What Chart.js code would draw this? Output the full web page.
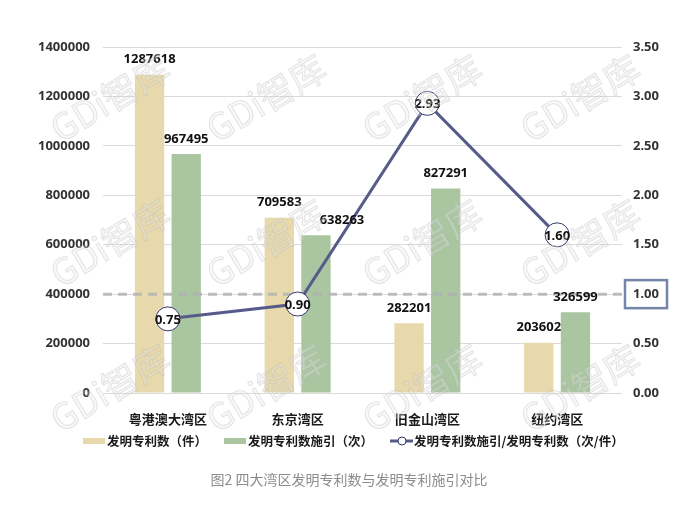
<!DOCTYPE html>
<html>
<head>
<meta charset="utf-8">
<script src="https://cdn.jsdelivr.net/npm/chart.js@4.4.0/dist/chart.umd.min.js"></script>
<style>
  html, body { margin: 0; padding: 0; background: #fff; }
  #wrap { width: 690px; height: 507px; position: relative; }
</style>
</head>
<body>
<div id="wrap"><canvas id="chart-patent"></canvas></div>
<script>
const regions = ['粤港澳大湾区', '东京湾区', '旧金山湾区', '纽约湾区'];
const patents = [1287618, 709583, 282201, 203602];
const citations = [967495, 638263, 827291, 326599];
const citeRatio = [0.75, 0.90, 2.93, 1.60];
const seriesNames = ['发明专利数（件）', '发明专利数施引（次）', '发明专利数施引/发明专利数（次/件）'];
const refLevel = 1.0;
const caption = '图2 四大湾区发明专利数与发明专利施引对比';
const watermark = 'GDi智库';

const fontFamily = '"Noto Sans", "Noto Sans CJK SC", sans-serif';
const cjkFont = '"Noto Sans CJK SC", sans-serif';
const yellow = '#e7d9ab';
const green = '#a9c6a1';
const navy = '#575b8a';

Chart.defaults.font.family = fontFamily;

// value labels over bars and inside the line points
const valueLabels = {
  id: 'valueLabels',
  afterDatasetsDraw(chart) {
    const ctx = chart.ctx;
    ctx.save();
    ctx.fillStyle = '#111';
    ctx.textAlign = 'center';
    ctx.textBaseline = 'middle';
    ctx.font = `bold 13px ${fontFamily}`;
    [0, 1].forEach(di => {
      chart.getDatasetMeta(di).data.forEach((bar, i) => {
        let dx = 0;
        if (di === 1 && i === 1) dx = 26; // nudged right in the original
        ctx.fillText(chart.data.datasets[di].data[i], bar.x + dx, bar.y - 15);
      });
    });
    chart.getDatasetMeta(2).data.forEach((pt, i) => {
      ctx.fillText(citeRatio[i].toFixed(2), pt.x, pt.y + 1);
    });
    ctx.restore();
  }
};

// grey dashed reference line at 1.00, under the ratio line
const refLine = {
  id: 'refLine',
  beforeDatasetDraw(chart, args) {
    if (args.index !== 2) return;
    const { ctx, chartArea } = chart;
    const y = chart.scales.y1.getPixelForValue(refLevel);
    ctx.save();
    ctx.strokeStyle = 'rgba(175,175,180,0.8)';
    ctx.lineWidth = 3;
    ctx.setLineDash([9, 6]);
    ctx.beginPath();
    ctx.moveTo(chartArea.left, y);
    ctx.lineTo(chartArea.right, y);
    ctx.stroke();
    ctx.restore();
  }
};

const extras = {
  id: 'extras',
  afterDraw(chart) {
    const { ctx, chartArea } = chart;
    ctx.save();

    // watermark
    ctx.font = `36px ${cjkFont}`;
    ctx.textAlign = 'center';
    ctx.textBaseline = 'middle';
    ctx.fillStyle = 'rgba(235,235,235,0.3)';
    ctx.strokeStyle = 'rgba(180,180,180,0.35)';
    ctx.lineWidth = 1;
    [98, 243, 388].forEach(wy => {
      [110, 266, 422, 580].forEach(wx => {
        ctx.save();
        ctx.translate(wx, wy);
        ctx.rotate(-31 * Math.PI / 180);
        ctx.fillText(watermark, 0, 0);
        ctx.strokeText(watermark, 0, 0);
        ctx.restore();
      });
    });

    // box round the 1.00 tick
    const yb = chart.scales.y1.getPixelForValue(refLevel);
    ctx.strokeStyle = '#7486a7';
    ctx.lineWidth = 2.5;
    ctx.strokeRect(chartArea.right + 3, yb - 14, 42, 28);

    // legend
    const ly = 441;
    ctx.font = `bold 12.5px ${cjkFont}`;
    ctx.textAlign = 'left';
    ctx.textBaseline = 'middle';
    ctx.fillStyle = yellow;
    ctx.fillRect(83, ly - 3, 22, 6);
    ctx.fillStyle = green;
    ctx.fillRect(224, ly - 3, 22, 6);
    ctx.strokeStyle = navy;
    ctx.lineWidth = 3;
    ctx.beginPath();
    ctx.moveTo(390, ly);
    ctx.lineTo(413, ly);
    ctx.stroke();
    ctx.beginPath();
    ctx.arc(402, ly, 4, 0, Math.PI * 2);
    ctx.fillStyle = '#fff';
    ctx.fill();
    ctx.lineWidth = 1;
    ctx.strokeStyle = '#34376a';
    ctx.stroke();
    ctx.fillStyle = '#1a1a1a';
    ctx.fillText(seriesNames[0], 107, ly);
    ctx.fillText(seriesNames[1], 248, ly);
    ctx.fillText(seriesNames[2], 414, ly);

    // caption
    ctx.font = `14px ${cjkFont}`;
    ctx.fillStyle = '#8c8c8c';
    ctx.textAlign = 'center';
    ctx.fillText(caption, 349, 480);
    ctx.restore();
  }
};

const tickFont = { size: 13, weight: 'bold' };

new Chart(document.getElementById('chart-patent'), {
  data: {
    labels: regions,
    datasets: [
      {
        type: 'bar',
        label: seriesNames[0],
        data: patents,
        backgroundColor: yellow,
        yAxisID: 'y',
        order: 2,
        categoryPercentage: 0.565,
        barPercentage: 0.8
      },
      {
        type: 'bar',
        label: seriesNames[1],
        data: citations,
        backgroundColor: green,
        yAxisID: 'y',
        order: 2,
        categoryPercentage: 0.565,
        barPercentage: 0.8
      },
      {
        type: 'line',
        label: seriesNames[2],
        data: citeRatio,
        yAxisID: 'y1',
        order: 0,
        borderColor: navy,
        borderWidth: 3,
        pointRadius: 12,
        pointBackgroundColor: '#fff',
        pointBorderColor: '#34376a',
        pointBorderWidth: 1,
        tension: 0
      }
    ]
  },
  options: {
    responsive: true,
    maintainAspectRatio: false,
    animation: false,
    layout: { padding: { top: 47, left: 0, right: 0, bottom: 0 } },
    plugins: {
      legend: { display: false },
      tooltip: { enabled: false }
    },
    scales: {
      x: {
        grid: { display: false },
        border: { display: false },
        ticks: { color: '#1a1a1a', padding: 10, font: { size: 13, weight: 'bold', family: cjkFont } },
        afterFit: s => { s.height = 114; }
      },
      y: {
        position: 'left',
        min: 0,
        max: 1400000,
        border: { display: false },
        grid: { color: '#dadada', drawTicks: false },
        ticks: { stepSize: 200000, color: '#333', padding: 13, font: tickFont, callback: v => String(v) },
        afterFit: s => { s.width = 103; }
      },
      y1: {
        position: 'right',
        min: 0,
        max: 3.5,
        border: { display: false },
        grid: { display: false, drawTicks: false },
        ticks: {
          stepSize: 0.5,
          color: '#333',
          padding: 11,
          font: tickFont,
          callback: v => v.toFixed(2)
        },
        afterFit: s => { s.width = 68; }
      }
    }
  },
  plugins: [refLine, valueLabels, extras]
});
</script>
</body>
</html>
